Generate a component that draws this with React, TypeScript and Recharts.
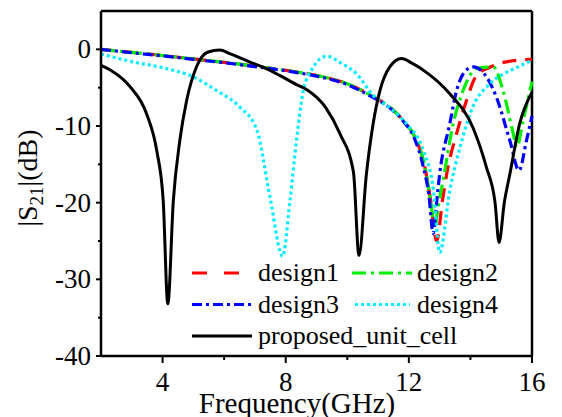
import React from 'react';
import { LineChart, Line, XAxis, YAxis, ReferenceLine } from 'recharts';

// frequency (GHz) / |S21| (dB)
const design1Freq = [2, 3, 4, 5, 6, 7, 8, 9, 10, 10.8, 11.4, 11.8, 12.2, 12.5, 12.7, 12.9, 13.1, 13.25, 13.55, 13.87, 14.2, 14.6, 15.2, 16];
const design1Vals = [0, -0.4, -0.8, -1.25, -1.7, -2.2, -2.75, -3.4, -4.5, -6.1, -7.6, -9.2, -11.5, -15, -19.5, -25, -19.5, -15.8, -11, -6.7, -3.4, -2.4, -1.6, -1.3];

const design2Freq = [2, 3, 4, 5, 6, 7, 8, 9, 10, 10.8, 11.4, 11.8, 12.2, 12.5, 12.7, 12.84, 12.95, 13.11, 13.44, 13.76, 14.0, 14.3, 14.74, 15.06, 15.39, 15.5, 15.71, 16];
const design2Vals = [0, -0.4, -0.8, -1.25, -1.7, -2.2, -2.75, -3.4, -4.5, -6.1, -7.6, -9.2, -11.5, -15, -19.5, -23.2, -20.5, -17.1, -9.7, -5.4, -3.3, -2.4, -2.3, -5.4, -11, -12.8, -9.3, -4.2];

const design3Freq = [2, 3, 4, 5, 6, 7, 8, 9, 10, 10.8, 11.4, 11.8, 12.2, 12.45, 12.65, 12.79, 12.9, 13.0, 13.33, 13.55, 13.8, 14.09, 14.41, 14.84, 15.28, 15.58, 15.82, 16];
const design3Vals = [0, -0.45, -0.85, -1.3, -1.75, -2.25, -2.8, -3.5, -4.6, -6.2, -7.7, -9.3, -11.8, -15, -19, -24, -20, -16.3, -9.7, -5.4, -3, -2.3, -3, -6.2, -11.9, -15.8, -11.9, -8.7];

const design4Freq = [2, 3, 4, 5, 5.76, 6.5, 7.06, 7.5, 7.9, 8.14, 8.35, 8.57, 8.9, 9.33, 9.8, 10.3, 10.84, 11.4, 11.92, 12.47, 12.8, 13.0, 13.33, 13.66, 14.08, 14.63, 15.17, 15.6, 16];
const design4Vals = [-0.6, -1.6, -2.4, -3.6, -5.4, -7.5, -10.5, -19.5, -27, -19.7, -11.9, -5.4, -2.3, -0.9, -1.8, -3.2, -6.0, -7.7, -9.7, -13.2, -18.4, -26.5, -18.4, -12.8, -7.5, -4.5, -3, -2.2, -1.4];

const proposedFreq = [2, 2.3, 2.95, 3.48, 3.81, 4.02, 4.17, 4.35, 4.56, 4.78, 5.1, 5.48, 5.86, 6.2, 6.8, 7.3, 7.8, 8.35, 8.7, 9.3, 9.76, 10.2, 10.38, 10.62, 10.84, 11.06, 11.38, 11.76, 12.1, 12.57, 13.33, 14.08, 14.52, 14.8, 14.93, 15.1, 15.28, 15.6, 16];
const proposedVals = [-2.1, -2.7, -4.9, -8.4, -13.2, -19.7, -33.2, -19.7, -11.9, -6.7, -2.3, -0.35, -0.1, -0.6, -1.6, -2.4, -3.4, -4.6, -5.3, -7.6, -11, -16, -26.9, -16.3, -9.7, -5.4, -2.3, -1.2, -1.8, -3, -5.8, -10.2, -15.4, -20, -25.2, -20, -16.3, -9.7, -5.6];

const xTicks = [4, 6, 8, 10, 12, 14, 16];
const yTicks = [-40, -35, -30, -25, -20, -15, -10, -5, 0];

const zip = (f: number[], v: number[]) => f.map((x, i) => ({ f: x, v: v[i] }));

const FONT = "'Liberation Serif', 'Times New Roman', Times, serif";
const txt = { fontFamily: FONT };

const series = [
  { name: 'design1', data: zip(design1Freq, design1Vals), color: '#ff0000', dash: '14 9' },
  { name: 'design2', data: zip(design2Freq, design2Vals), color: '#00ee00', dash: '14 5 3 5' },
  { name: 'design3', data: zip(design3Freq, design3Vals), color: '#0000ff', dash: '10 4 3 4' },
  { name: 'design4', data: zip(design4Freq, design4Vals), color: '#00eeff', dash: '3 3' },
  { name: 'proposed_unit_cell', data: zip(proposedFreq, proposedVals), color: '#000000', dash: undefined },
];

const YTick = (props: any) => {
  const { x, y, payload } = props;
  const major = payload.value % 10 === 0;
  return (
    <g>
      <line x1={x - (major ? 5 : 3)} x2={x} y1={y} y2={y} stroke="#000" strokeWidth={2} />
      {major && (
        <text x={x - 10} y={y} dy={9} textAnchor="end" fontSize={27} style={txt} fill="#000">
          {payload.value}
        </text>
      )}
    </g>
  );
};

const XTick = (props: any) => {
  const { x, y, payload } = props;
  const major = payload.value % 4 === 0;
  return (
    <g>
      <line x1={x} x2={x} y1={y} y2={y + (major ? 7 : 4)} stroke="#000" strokeWidth={2} />
      {major && (
        <text x={x} y={y + 35} textAnchor="middle" fontSize={27} style={txt} fill="#000">
          {payload.value}
        </text>
      )}
    </g>
  );
};

const YTitle = () => (
  <text transform="translate(37,178) rotate(-90)" textAnchor="middle" fontSize={28} style={txt} fill="#000">
    |S<tspan fontSize={19} dy={6}>21</tspan>
    <tspan dy={-6}>|(dB)</tspan>
  </text>
);

const XTitle = () => (
  <text x={297} y={413} textAnchor="middle" fontSize={29} style={txt} fill="#000">
    Frequency(GHz)
  </text>
);

const legendItems = [
  { s: series[0], lx: 7, lw: 48, tx: 73, row: 0 },
  { s: series[1], lx: 167, lw: 60, tx: 232, row: 0 },
  { s: series[2], lx: 7, lw: 60, tx: 73, row: 1 },
  { s: series[3], lx: 170, lw: 55, tx: 232, row: 1 },
  { s: series[4], lx: 7, lw: 60, tx: 73, row: 2 },
];

const ChartLegend = () => (
  <svg width={360} height={100} style={{ position: 'absolute', left: 185, top: 258 }}>
    {legendItems.map((it) => {
      const cy = 15 + it.row * 31.5;
      return (
        <g key={it.s.name}>
          <line x1={it.lx} x2={it.lx + it.lw} y1={cy} y2={cy} stroke={it.s.color} strokeWidth={3.2} strokeDasharray={it.s.name === 'design1' ? '15 17' : it.s.dash} />
          <text x={it.tx} y={cy + 8} fontSize={26} style={txt} fill="#000">{it.s.name}</text>
        </g>
      );
    })}
  </svg>
);

export default function App() {
  return (
    <div style={{ position: 'absolute', left: 0, top: 0, width: 562, height: 417, background: '#fff' }}>
      <LineChart width={562} height={417} margin={{ top: 11, right: 30, bottom: 0, left: 0 }}>
        <XAxis
          type="number"
          dataKey="f"
          domain={[2, 16]}
          ticks={xTicks}
          interval={0}
          height={61}
          tickSize={0}
          tickMargin={0}
          tickLine={false}
          tick={<XTick />}
          axisLine={{ stroke: '#000', strokeWidth: 2.5 }}
          label={<XTitle />}
        />
        <YAxis
          type="number"
          domain={[-40, 5]}
          ticks={yTicks}
          interval={0}
          width={101}
          tickSize={0}
          tickMargin={0}
          tickLine={false}
          tick={<YTick />}
          axisLine={{ stroke: '#000', strokeWidth: 2.5 }}
          label={<YTitle />}
        />
        <ReferenceLine y={5} stroke="#000" strokeWidth={2.5} />
        <ReferenceLine x={16} stroke="#000" strokeWidth={2.5} />
        {series.map((s) => (
          <Line
            key={s.name}
            data={s.data}
            dataKey="v"
            name={s.name}
            type="monotone"
            stroke={s.color}
            strokeWidth={s.name === 'proposed_unit_cell' ? 3 : 3.2}
            strokeDasharray={s.dash}
            dot={false}
            activeDot={false}
            isAnimationActive={false}
          />
        ))}
      </LineChart>
      <ChartLegend />
    </div>
  );
}
